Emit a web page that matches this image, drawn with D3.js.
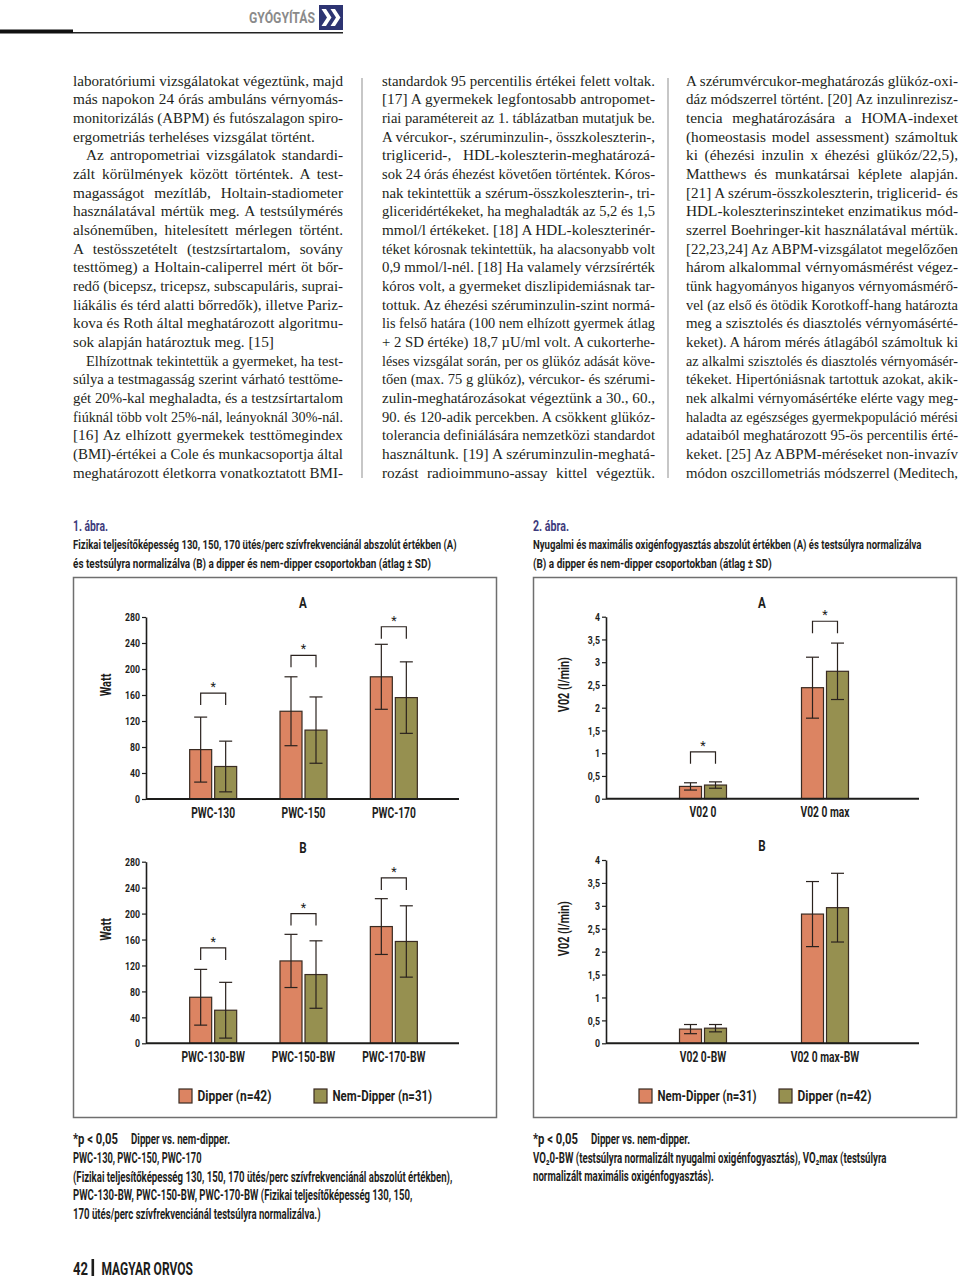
<!DOCTYPE html>
<html><head><meta charset="utf-8">
<script src="https://cdn.jsdelivr.net/npm/d3@7"></script>
<style>
body{margin:0;background:#fff;}
#page{position:relative;width:960px;height:1279px;overflow:hidden;background:#fff;}
.line{position:absolute;white-space:nowrap;font-family:'Liberation Serif','DejaVu Serif',serif;font-size:15.3px;line-height:18.68px;color:#231f20;}
svg{position:absolute;left:0;top:0;}
</style></head><body><div id="page"></div>
<script>
// ---------------- DATA ----------------
const pwcCats = ["PWC-130", "PWC-150", "PWC-170"];
const pwcDipperMean = [76, 135, 188];
const pwcDipperSD = [50, 53, 50];
const pwcNonDipperMean = [50, 106, 156];
const pwcNonDipperSD = [39, 51, 55];
const pwcSigLevel = [163, 221, 265];

const pwcBwCats = ["PWC-130-BW", "PWC-150-BW", "PWC-170-BW"];
const pwcBwDipperMean = [71, 127, 180];
const pwcBwDipperSD = [43, 41, 43];
const pwcBwNonDipperMean = [51, 106, 157];
const pwcBwNonDipperSD = [43, 52, 55];
const pwcBwSigLevel = [147, 200, 255];

const pwcTicks = [0, 40, 80, 120, 160, 200, 240, 280];

const vo2Cats = ["V02 0", "V02 0 max"];
const vo2NemDipperMean = [0.27, 2.44];
const vo2NemDipperSD = [0.08, 0.67];
const vo2DipperMean = [0.30, 2.80];
const vo2DipperSD = [0.07, 0.62];
const vo2SigLevel = [1.03, 3.9];

const vo2BwCats = ["V02 0-BW", "V02 0 max-BW"];
const vo2BwNemDipperMean = [0.31, 2.82];
const vo2BwNemDipperSD = [0.10, 0.71];
const vo2BwDipperMean = [0.33, 2.96];
const vo2BwDipperSD = [0.08, 0.75];

const vo2Ticks = [0, 0.5, 1, 1.5, 2, 2.5, 3, 3.5, 4];

const col1Lines = [
"laboratóriumi vizsgálatokat végeztünk, majd",
"más napokon 24 órás ambuláns vérnyomás-",
"monitorizálás (ABPM) és futószalagon spiro-",
"ergometriás terheléses vizsgálat történt.",
"Az antropometriai vizsgálatok standardi-",
"zált körülmények között történtek. A test-",
"magasságot mezítláb, Holtain-stadiometer",
"használatával mértük meg. A testsúlymérés",
"alsóneműben, hitelesített mérlegen történt.",
"A testösszetételt (testzsírtartalom, sovány",
"testtömeg) a Holtain-caliperrel mért öt bőr-",
"redő (bicepsz, tricepsz, subscapuláris, suprai-",
"liákális és térd alatti bőrredők), illetve Pariz-",
"kova és Roth által meghatározott algoritmu-",
"sok alapján határoztuk meg. [15]",
"Elhízottnak tekintettük a gyermeket, ha test-",
"súlya a testmagasság szerint várható testtöme-",
"gét 20%-kal meghaladta, és a testzsírtartalom",
"fiúknál több volt 25%-nál, leányoknál 30%-nál.",
"[16] Az elhízott gyermekek testtömegindex",
"(BMI)-értékei a Cole és munkacsoportja által",
"meghatározott életkorra vonatkoztatott BMI-"];
const col1Indent = [4, 15];
const col1ParaEnd = [3, 14];

const col2Lines = [
"standardok 95 percentilis értékei felett voltak.",
"[17] A gyermekek legfontosabb antropomet-",
"riai paramétereit az 1. táblázatban mutatjuk be.",
"A vércukor-, széruminzulin-, összkoleszterin-,",
"triglicerid-, HDL-koleszterin-meghatározá-",
"sok 24 órás éhezést követően történtek. Kóros-",
"nak tekintettük a szérum-összkoleszterin-, tri-",
"gliceridértékeket, ha meghaladták az 5,2 és 1,5",
"mmol/l értékeket. [18] A HDL-koleszterinér-",
"téket kórosnak tekintettük, ha alacsonyabb volt",
"0,9 mmol/l-nél. [18] Ha valamely vérzsírérték",
"kóros volt, a gyermeket diszlipidemiásnak tar-",
"tottuk. Az éhezési széruminzulin-szint normá-",
"lis felső határa (100 nem elhízott gyermek átlag",
"+ 2 SD értéke) 18,7 µU/ml volt. A cukorterhe-",
"léses vizsgálat során, per os glükóz adását köve-",
"tően (max. 75 g glükóz), vércukor- és szérumi-",
"zulin-meghatározásokat végeztünk a 30., 60.,",
"90. és 120-adik percekben. A csökkent glükóz-",
"tolerancia definiálására nemzetközi standardot",
"használtunk. [19] A széruminzulin-meghatá-",
"rozást radioimmuno-assay kittel végeztük."];

const col3Lines = [
"A szérumvércukor-meghatározás glükóz-oxi-",
"dáz módszerrel történt. [20] Az inzulinrezisz-",
"tencia meghatározására a HOMA-indexet",
"(homeostasis model assessment) számoltuk",
"ki (éhezési inzulin x éhezési glükóz/22,5),",
"Matthews és munkatársai képlete alapján.",
"[21] A szérum-összkoleszterin, triglicerid- és",
"HDL-koleszterinszinteket enzimatikus mód-",
"szerrel Boehringer-kit használatával mértük.",
"[22,23,24] Az ABPM-vizsgálatot megelőzően",
"három alkalommal vérnyomásmérést végez-",
"tünk hagyományos higanyos vérnyomásmérő-",
"vel (az első és ötödik Korotkoff-hang határozta",
"meg a szisztolés és diasztolés vérnyomásérté-",
"keket). A három mérés átlagából számoltuk ki",
"az alkalmi szisztolés és diasztolés vérnyomásér-",
"tékeket. Hipertóniásnak tartottuk azokat, akik-",
"nek alkalmi vérnyomásértéke elérte vagy meg-",
"haladta az egészséges gyermekpopuláció mérési",
"adataiból meghatározott 95-ös percentilis érté-",
"keket. [25] Az ABPM-méréseket non-invazív",
"módon oszcillometriás módszerrel (Meditech,"];

// ---------------- STYLE ----------------
const ORANGE = "#dc8462", OLIVE = "#969050", INK = "#1d1d1b";
const SANS = "Roboto, 'DejaVu Sans', sans-serif";

const page = d3.select("#page");

// ---------------- BODY TEXT ----------------
function bodyColumn(x, w, lines, indents, paraEnds) {
  lines.forEach((s, i) => {
    const ind = indents.includes(i) ? 13 : 0;
    const avail = w - ind;
    const div = page.append("div").attr("class", "line")
      .style("left", (x + ind) + "px").style("top", (71.5 + i * 18.68) + "px");
    const span = div.append("span").text(s);
    const tw = span.node().getBoundingClientRect().width;
    const nSp = (s.match(/ /g) || []).length;
    if (tw > avail) {
      span.style("display", "inline-block").style("transform-origin", "0 0")
        .style("transform", `scaleX(${avail / tw})`);
    } else if (!paraEnds.includes(i) && nSp > 0) {
      span.style("word-spacing", ((avail - tw) / nSp) + "px");
    }
  });
}
bodyColumn(73, 270, col1Lines, col1Indent, col1ParaEnd);
bodyColumn(382, 273, col2Lines, [], []);
bodyColumn(686, 272, col3Lines, [], []);

// ---------------- SVG ----------------
const svg = page.append("svg").attr("width", 960).attr("height", 1279);

// horizontally condense a text element by scaling about its anchor point
function fit(t, o, rotate) {
  const n = t.node().getComputedTextLength();
  const target = o.w != null ? o.w : n * (o.k || 0.72);
  const k = target / n;
  const x = +t.attr("x") || 0, y = +t.attr("y") || 0;
  t.attr("x", 0).attr("y", 0)
    .attr("transform", `translate(${x},${y})${rotate ? " rotate(-90)" : ""} scale(${k},1)`);
}
function txt(g, x, y, s, o = {}) {
  const t = g.append("text").attr("x", x).attr("y", y).text(s)
    .attr("font-family", SANS).attr("font-size", o.size || 13)
    .attr("font-weight", o.weight || 700).attr("fill", o.fill || INK)
    .attr("text-anchor", o.anchor || "start");
  fit(t, o, o.rotate);
  return t;
}

// divider lines
[362, 668].forEach(x => svg.append("line").attr("x1", x).attr("x2", x)
  .attr("y1", 78).attr("y2", 478).attr("stroke", "#b5b5b5").attr("stroke-width", 1.5));

// header
svg.append("rect").attr("x", 0).attr("y", 29.5).attr("width", 73).attr("height", 4).attr("fill", "#111");
svg.append("line").attr("x1", 73).attr("x2", 343).attr("y1", 32.8).attr("y2", 32.8)
  .attr("stroke", "#222").attr("stroke-width", 1.4);
txt(svg, 249, 23, "GYÓGYÍTÁS", { size: 15, weight: 700, fill: "#8a8a8a", w: 66 });
svg.append("rect").attr("x", 319).attr("y", 5).attr("width", 24).attr("height", 25).attr("fill", "#2d3472");
function chevron(x0) {
  return `M${x0},9 L${x0 + 4.5},9 L${x0 + 10},17.5 L${x0 + 4.5},26 L${x0},26 L${x0 + 5.5},17.5 Z`;
}
svg.append("path").attr("d", chevron(321.5)).attr("fill", "#fff");
svg.append("path").attr("d", chevron(330.5)).attr("fill", "#fff");

// captions
const NAVY = "#3d3a7c";
const CW = 700;
txt(svg, 73, 530.5, "1. ábra.", { size: 14.5, weight: CW, fill: NAVY, w: 35 });
txt(svg, 73, 549, "Fizikai teljesítőképesség 130, 150, 170 ütés/perc szívfrekvenciánál abszolút értékben (A)", { size: 13.5, weight: CW, w: 384 });
txt(svg, 73, 568, "és testsúlyra normalizálva (B) a dipper és nem-dipper csoportokban (átlag ± SD)", { size: 13.5, weight: CW, w: 358 });
txt(svg, 533, 530.5, "2. ábra.", { size: 14.5, weight: CW, fill: NAVY, w: 36 });
txt(svg, 533, 549, "Nyugalmi és maximális oxigénfogyasztás abszolút értékben (A) és testsúlyra normalizálva", { size: 13.5, weight: CW, w: 389 });
txt(svg, 533, 568, "(B) a dipper és nem-dipper csoportokban (átlag ± SD)", { size: 13.5, weight: CW, w: 239 });

// notes
txt(svg, 73, 1143.5, "*p < 0,05", { size: 14, weight: CW, w: 45 });
txt(svg, 131, 1143.5, "Dipper vs. nem-dipper.", { size: 14, weight: CW, w: 99 });
txt(svg, 73, 1162.5, "PWC-130, PWC-150, PWC-170", { size: 14, weight: CW, w: 128.7 });
txt(svg, 73, 1181.5, "(Fizikai teljesítőképesség 130, 150, 170 ütés/perc szívfrekvenciánál abszolút értékben),", { size: 14, weight: CW, w: 379.7 });
txt(svg, 73, 1200, "PWC-130-BW, PWC-150-BW, PWC-170-BW (Fizikai teljesítőképesség 130, 150,", { size: 14, weight: CW, w: 339.7 });
txt(svg, 73, 1218.5, "170 ütés/perc szívfrekvenciánál testsúlyra normalizálva.)", { size: 14, weight: CW, w: 247.7 });

txt(svg, 533, 1143.5, "*p < 0,05", { size: 14, weight: CW, w: 45 });
txt(svg, 591, 1143.5, "Dipper vs. nem-dipper.", { size: 14, weight: CW, w: 99 });
txt(svg, 533, 1162.5, "VO₂0-BW (testsúlyra normalizált nyugalmi oxigénfogyasztás), VO₂max (testsúlyra", { size: 14, weight: CW, w: 353.7 });
txt(svg, 533, 1181, "normalizált maximális oxigénfogyasztás).", { size: 14, weight: CW, w: 181 });

// footer
txt(svg, 73, 1275, "42", { size: 19, weight: 700, w: 15 });
svg.append("rect").attr("x", 91.5).attr("y", 1259).attr("width", 2.6).attr("height", 17).attr("fill", INK);
txt(svg, 101.5, 1275, "MAGYAR ORVOS", { size: 19, weight: 700, w: 91.5 });

// frames
[73.5, 533.5].forEach(x => svg.append("rect").attr("x", x).attr("y", 577.5)
  .attr("width", 423).attr("height", 540).attr("fill", "none")
  .attr("stroke", "#6f6f6f").attr("stroke-width", 1.5));

// ---------------- PANELS ----------------
function panel(cfg) {
  const g = svg.append("g");
  const y = d3.scaleLinear().domain([0, cfg.max]).range([cfg.base, cfg.top]);
  const x = d3.scaleBand().domain(cfg.cats).range(cfg.band);
  const bw = 22, gap = 3;
  const series = [
    { mean: cfg.m1, sd: cfg.s1, color: ORANGE, off: -gap / 2 - bw },
    { mean: cfg.m2, sd: cfg.s2, color: OLIVE, off: gap / 2 }
  ];
  const cx = (c, s) => x(c) + x.bandwidth() / 2 + s.off + bw / 2;

  series.forEach(s => {
    const d = cfg.cats.map((c, i) => ({ c, m: s.mean[i], sd: s.sd[i] }));
    g.selectAll(null).data(d).join("rect")
      .attr("x", e => x(e.c) + x.bandwidth() / 2 + s.off)
      .attr("y", e => y(e.m)).attr("width", bw)
      .attr("height", e => y(0) - y(e.m))
      .attr("fill", s.color).attr("stroke", "#3a2b22").attr("stroke-width", 1.2);
  });
  series.forEach(s => {
    const d = cfg.cats.map((c, i) => ({ c, m: s.mean[i], sd: s.sd[i] }));
    const eg = g.selectAll(null).data(d).join("g")
      .attr("stroke", "#2a221e").attr("stroke-width", 1.2);
    eg.append("line").attr("x1", e => cx(e.c, s)).attr("x2", e => cx(e.c, s))
      .attr("y1", e => y(e.m + e.sd)).attr("y2", e => y(e.m - e.sd));
    [1, -1].forEach(sg => eg.append("line")
      .attr("x1", e => cx(e.c, s) - 6.5).attr("x2", e => cx(e.c, s) + 6.5)
      .attr("y1", e => y(e.m + sg * e.sd)).attr("y2", e => y(e.m + sg * e.sd)));
  });

  if (cfg.sig) {
    cfg.cats.forEach((c, i) => {
      const x1 = cx(c, series[0]), x2 = cx(c, series[1]), yy = y(cfg.sig[i]);
      g.append("path").attr("d", `M${x1},${yy + 12}V${yy}H${x2}V${yy + 12}`)
        .attr("fill", "none").attr("stroke", "#2a221e").attr("stroke-width", 1.2);
      g.append("text").attr("x", (x1 + x2) / 2).attr("y", yy - 2).text("*")
        .attr("text-anchor", "middle").attr("font-family", SANS)
        .attr("font-size", 12.5).attr("fill", INK);
    });
  }

  // y axis
  const ya = d3.axisLeft(y).tickValues(cfg.ticks).tickSize(4).tickSizeOuter(0)
    .tickPadding(2).tickFormat(cfg.fmt);
  const yg = g.append("g").attr("transform", `translate(${cfg.axisX},0)`).call(ya);
  yg.select(".domain").attr("stroke", INK).attr("stroke-width", 1.6);
  yg.selectAll(".tick line").attr("stroke", INK).attr("stroke-width", 1.2);
  yg.selectAll(".tick text").attr("font-family", SANS).attr("font-size", 11.5)
    .attr("font-weight", 700).attr("fill", INK).each(function () { fit(d3.select(this), { k: 0.76 }); });

  // x axis
  g.append("line").attr("x1", cfg.axisX).attr("x2", cfg.axisEnd)
    .attr("y1", y(0)).attr("y2", y(0)).attr("stroke", INK).attr("stroke-width", 2);
  const xa = d3.axisBottom(x).tickSize(0).tickPadding(7.5);
  const xg = g.append("g").attr("transform", `translate(0,${y(0)})`).call(xa);
  xg.select(".domain").remove();
  xg.selectAll(".tick text").attr("font-family", SANS).attr("font-size", 15.5)
    .attr("font-weight", 700).attr("fill", INK).each(function () { fit(d3.select(this), { k: 0.66 }); });

  // title & y label
  txt(g, cfg.titleX, cfg.top - 9, cfg.title, { size: 14.5, k: 0.8, anchor: "middle" });
  txt(g, cfg.ylabX, (cfg.top + cfg.base) / 2 - 23, cfg.ylab, { size: 15, anchor: "middle", rotate: true, w: cfg.ylabW });
}

const fmtPwc = d => String(d);
const fmtVo2 = d => String(d).replace(".", ",");

panel({ cats: pwcCats, m1: pwcDipperMean, s1: pwcDipperSD, m2: pwcNonDipperMean, s2: pwcNonDipperSD,
  sig: pwcSigLevel, max: 280, ticks: pwcTicks, fmt: fmtPwc, top: 617, base: 799,
  band: [168, 439], axisX: 146, axisEnd: 459, title: "A", titleX: 303, ylab: "Watt", ylabX: 111, ylabW: 22.7 });
panel({ cats: pwcBwCats, m1: pwcBwDipperMean, s1: pwcBwDipperSD, m2: pwcBwNonDipperMean, s2: pwcBwNonDipperSD,
  sig: pwcBwSigLevel, max: 280, ticks: pwcTicks, fmt: fmtPwc, top: 861.7, base: 1043.3,
  band: [168, 439], axisX: 146, axisEnd: 459, title: "B", titleX: 303, ylab: "Watt", ylabX: 111, ylabW: 22.7 });
panel({ cats: vo2Cats, m1: vo2NemDipperMean, s1: vo2NemDipperSD, m2: vo2DipperMean, s2: vo2DipperSD,
  sig: vo2SigLevel, max: 4, ticks: vo2Ticks, fmt: fmtVo2, top: 616.7, base: 798.7,
  band: [642, 886], axisX: 606, axisEnd: 919, title: "A", titleX: 762, ylab: "V02 (l/min)", ylabX: 569, ylabW: 55 });
panel({ cats: vo2BwCats, m1: vo2BwNemDipperMean, s1: vo2BwNemDipperSD, m2: vo2BwDipperMean, s2: vo2BwDipperSD,
  sig: null, max: 4, ticks: vo2Ticks, fmt: fmtVo2, top: 860, base: 1043.3,
  band: [642, 886], axisX: 606, axisEnd: 919, title: "B", titleX: 762, ylab: "V02 (l/min)", ylabX: 569, ylabW: 55 });

// legends
function legendItem(x, y, color, label, w) {
  svg.append("rect").attr("x", x).attr("y", y).attr("width", 13).attr("height", 14)
    .attr("fill", color).attr("stroke", "#3a2b22").attr("stroke-width", 1.2);
  txt(svg, x + 18.5, y + 12, label, { size: 15, weight: 700, w });
}
legendItem(179, 1089, ORANGE, "Dipper (n=42)", 74);
legendItem(314, 1089, OLIVE, "Nem-Dipper (n=31)", 99.7);
legendItem(639, 1089, ORANGE, "Nem-Dipper (n=31)", 99);
legendItem(779, 1089, OLIVE, "Dipper (n=42)", 74);
</script></body></html>
